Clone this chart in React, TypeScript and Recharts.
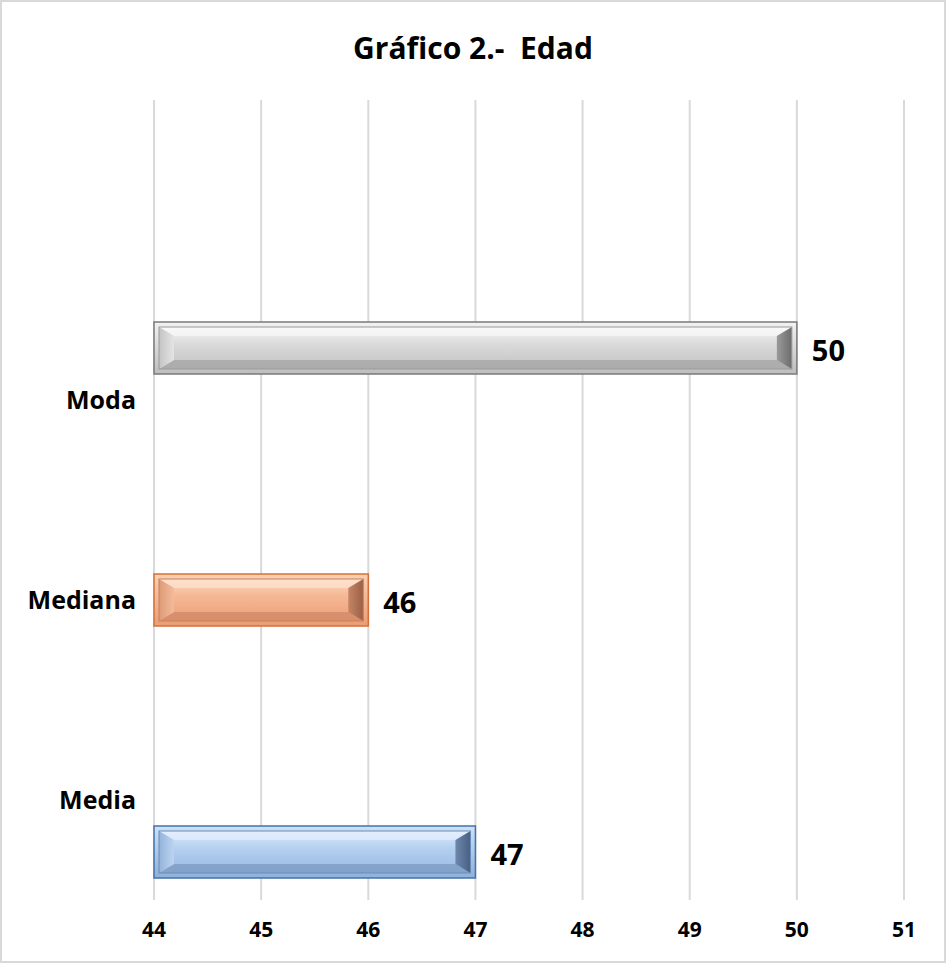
import { BarChart, Bar, XAxis, YAxis, CartesianGrid, LabelList } from "recharts";

// Excel-style clustered bars: each row carries only its own series,
// and the first row is a blank category above the others.
const categories = ["", "Moda", "Mediana", "Media"];
const modaValues = [null, 50, null, null];
const medianaValues = [null, null, 46, null];
const mediaValues = [null, null, null, 47];
const xTicks = [44, 45, 46, 47, 48, 49, 50, 51];

const data = categories.map((name, i) => ({
  name,
  moda: modaValues[i],
  mediana: medianaValues[i],
  media: mediaValues[i],
}));

const FONT = "'Open Sans', Lato, sans-serif";

type Palette = {
  id: string;
  border: string;
  frameTop: string;
  frameBottom: string;
  faceTop: string;
  faceMid: string;
  faceBottom: string;
  leftA: string;
  leftB: string;
  rightA: string;
  rightB: string;
  top: string;
  bottom: string;
  outline: string;
};

const palettes: Record<string, Palette> = {
  moda: {
    id: "moda",
    border: "#7a7a7a",
    frameTop: "#f2f2f2",
    frameBottom: "#bdbdbd",
    faceTop: "#f7f7f7",
    faceMid: "#dadada",
    faceBottom: "#c2c2c2",
    leftA: "#e4e4e4",
    leftB: "#c4c4c4",
    rightA: "#9a9a9a",
    rightB: "#6c6c6c",
    top: "#f8f8f8",
    bottom: "#a6a6a6",
    outline: "#9a9a9a",
  },
  mediana: {
    id: "mediana",
    border: "#d4713a",
    frameTop: "#fbcfb3",
    frameBottom: "#ec9c72",
    faceTop: "#fcd9c2",
    faceMid: "#f5b894",
    faceBottom: "#eba079",
    leftA: "#f3bb9b",
    leftB: "#de9a76",
    rightA: "#c48565",
    rightB: "#9a6045",
    top: "#fde2d0",
    bottom: "#d38a66",
    outline: "#c5825f",
  },
  media: {
    id: "media",
    border: "#4373ad",
    frameTop: "#cde1f7",
    frameBottom: "#8eb0da",
    faceTop: "#dcebfc",
    faceMid: "#b5d0f0",
    faceBottom: "#98b9e3",
    leftA: "#bcd4f0",
    leftB: "#94b3da",
    rightA: "#6d88ad",
    rightB: "#475f83",
    top: "#e3effd",
    bottom: "#7d9cc4",
    outline: "#6a8bb5",
  },
};

const makeBevelBar = (p: Palette) => (props: any) => {
  const { x, y, width, height } = props;
  if (!width || width <= 0 || !height) return null;
  const f = 5;
  const px = x + f;
  const py = y + f;
  const pw = width - 2 * f;
  const ph = height - 2 * f;
  const s = 15;
  const t = 9;
  return (
    <g>
      <defs>
        <linearGradient id={`frame-${p.id}`} x1="0" y1="0" x2="0" y2="1">
          <stop offset="0%" stopColor={p.frameTop} />
          <stop offset="100%" stopColor={p.frameBottom} />
        </linearGradient>
        <linearGradient id={`face-${p.id}`} x1="0" y1="0" x2="0" y2="1">
          <stop offset="0%" stopColor={p.faceTop} />
          <stop offset="40%" stopColor={p.faceMid} />
          <stop offset="100%" stopColor={p.faceBottom} />
        </linearGradient>
        <linearGradient id={`left-${p.id}`} x1="0" y1="0" x2="1" y2="0">
          <stop offset="0%" stopColor={p.leftB} />
          <stop offset="100%" stopColor={p.leftA} />
        </linearGradient>
        <linearGradient id={`right-${p.id}`} x1="0" y1="0" x2="1" y2="0">
          <stop offset="0%" stopColor={p.rightA} />
          <stop offset="100%" stopColor={p.rightB} />
        </linearGradient>
      </defs>
      <rect x={x} y={y} width={width} height={height} fill={`url(#frame-${p.id})`} stroke={p.border} strokeWidth={1.5} />
      <rect x={px} y={py} width={pw} height={ph} fill={`url(#face-${p.id})`} />
      <polygon
        points={`${px},${py} ${px + pw},${py} ${px + pw - s},${py + t} ${px + s},${py + t}`}
        fill={p.top}
        opacity={0.7}
      />
      <polygon
        points={`${px},${py + ph} ${px + pw},${py + ph} ${px + pw - s},${py + ph - t} ${px + s},${py + ph - t}`}
        fill={p.bottom}
        opacity={0.8}
      />
      <polygon points={`${px},${py} ${px + s},${py + t} ${px + s},${py + ph - t} ${px},${py + ph}`} fill={`url(#left-${p.id})`} />
      <polygon
        points={`${px + pw},${py} ${px + pw - s},${py + t} ${px + pw - s},${py + ph - t} ${px + pw},${py + ph}`}
        fill={`url(#right-${p.id})`}
      />
      <rect x={px} y={py} width={pw} height={ph} fill="none" stroke={p.outline} strokeWidth={1} />
    </g>
  );
};

const renderValue = (props: any) => {
  const { x, y, width, height, value } = props;
  if (value == null) return null;
  return (
    <text
      x={x + width + 15}
      y={y + height / 2 + 5}
      fontFamily={FONT}
      fontWeight={700}
      fontSize={29}
      fill="#000"
      dominantBaseline="middle"
    >
      {value}
    </text>
  );
};

export default function App() {
  return (
    <div
      style={{
        position: "absolute",
        left: 0,
        top: 0,
        width: 946,
        height: 963,
        background: "#fff",
        boxSizing: "border-box",
        border: "2px solid #d9d9d9",
      }}
    >
      <div
        style={{
          position: "absolute",
          left: 0,
          right: 0,
          top: 26,
          textAlign: "center",
          fontFamily: FONT,
          fontWeight: 700,
          fontSize: 30,
          lineHeight: "40px",
          whiteSpace: "pre",
          color: "#000",
        }}
      >
        Gráfico 2.-  Edad
      </div>
      <div style={{ position: "absolute", left: -2, top: -2 }}>
        <BarChart
          width={946}
          height={963}
          data={data}
          layout="vertical"
          barGap={0}
          barSize={52}
          margin={{ top: 100, right: 42, bottom: 23, left: 14 }}
        >
          <CartesianGrid horizontal={false} stroke="#d9d9d9" strokeWidth={2} />
          <XAxis
            type="number"
            domain={[44, 51]}
            ticks={xTicks}
            axisLine={false}
            tickLine={false}
            tickSize={0}
            tickMargin={22}
            height={40}
            tick={{ fontFamily: FONT, fontWeight: 700, fontSize: 21, fill: "#000" }}
          />
          <YAxis
            type="category"
            dataKey="name"
            width={140}
            axisLine={false}
            tickLine={false}
            tickSize={0}
            tickMargin={18}
            tick={{ fontFamily: FONT, fontWeight: 700, fontSize: 25, fill: "#000" }}
          />
          <Bar dataKey="moda" isAnimationActive={false} shape={makeBevelBar(palettes.moda)}>
            <LabelList dataKey="moda" content={renderValue} />
          </Bar>
          <Bar dataKey="mediana" isAnimationActive={false} shape={makeBevelBar(palettes.mediana)}>
            <LabelList dataKey="mediana" content={renderValue} />
          </Bar>
          <Bar dataKey="media" isAnimationActive={false} shape={makeBevelBar(palettes.media)}>
            <LabelList dataKey="media" content={renderValue} />
          </Bar>
        </BarChart>
      </div>
    </div>
  );
}
